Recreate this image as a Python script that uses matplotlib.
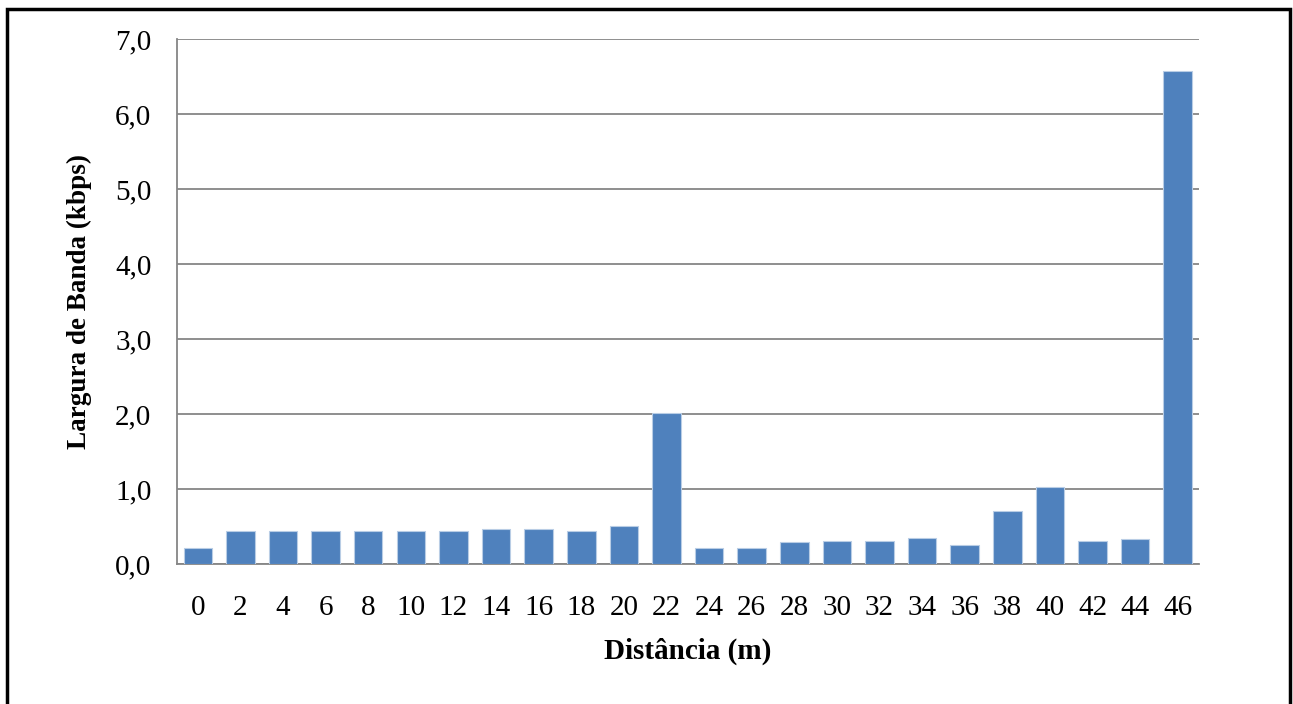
import matplotlib
matplotlib.use("Agg")
import matplotlib.pyplot as plt
from matplotlib.patches import Rectangle
import numpy as np

# Distance from the access point (m) and measured bandwidth (kbps)
distancias = ["0", "2", "4", "6", "8", "10", "12", "14", "16", "18", "20", "22",
              "24", "26", "28", "30", "32", "34", "36", "38", "40", "42", "44", "46"]
largura_banda = [0.22, 0.44, 0.44, 0.44, 0.44, 0.44, 0.44, 0.47, 0.47, 0.44, 0.51, 2.01,
                 0.22, 0.22, 0.29, 0.31, 0.31, 0.35, 0.25, 0.71, 1.03, 0.31, 0.33, 6.57]
y_ticks = [0, 1, 2, 3, 4, 5, 6, 7]
y_tick_labels = ["0,0", "1,0", "2,0", "3,0", "4,0", "5,0", "6,0", "7,0"]

W, H, DPI = 1293, 704, 100
plt.rcParams["font.family"] = ["Liberation Serif", "DejaVu Serif"]

fig = plt.figure(figsize=(W / DPI, H / DPI), dpi=DPI)
fig.patch.set_facecolor("white")

# plot area in pixel coordinates
left, right, top, bottom = 176.5, 1199, 39, 564
ax = fig.add_axes([left / W, 1 - bottom / H, (right - left) / W, (bottom - top) / H])

x = np.arange(len(distancias))
ax.bar(x, largura_banda, width=0.67, color="#4F81BD", edgecolor="#B9CDE5",
       linewidth=0.8, zorder=3)

ax.set_xlim(-0.5, len(distancias) - 0.5)
ax.set_ylim(0, 7)
ax.set_yticks(y_ticks)
ax.set_yticklabels(y_tick_labels)
ax.set_xticks(x)
ax.set_xticklabels(distancias)

ax.grid(axis="y", color="#868686", linewidth=1.3, zorder=1)
ax.set_axisbelow(True)
for side in ("top", "right"):
    ax.spines[side].set_visible(False)
for side in ("left", "bottom"):
    ax.spines[side].set_color("#868686")
    ax.spines[side].set_linewidth(1.3)

ax.tick_params(axis="y", length=0, pad=18, labelsize=21)
ax.tick_params(axis="x", length=0, pad=22, labelsize=21)

ax.set_xlabel("Distância (m)", fontsize=21, fontweight="bold", labelpad=12)
ax.set_ylabel("Largura de Banda (kbps)", fontsize=19.5, fontweight="bold", labelpad=17)

# outer frame around the chart
fig.patches.append(Rectangle((7 / W, -0.05), (1290 - 7) / W, 1.05 - 9 / H,
                             transform=fig.transFigure, fill=False,
                             edgecolor="black", linewidth=2.5))

fig.savefig("out.png", dpi=DPI)
